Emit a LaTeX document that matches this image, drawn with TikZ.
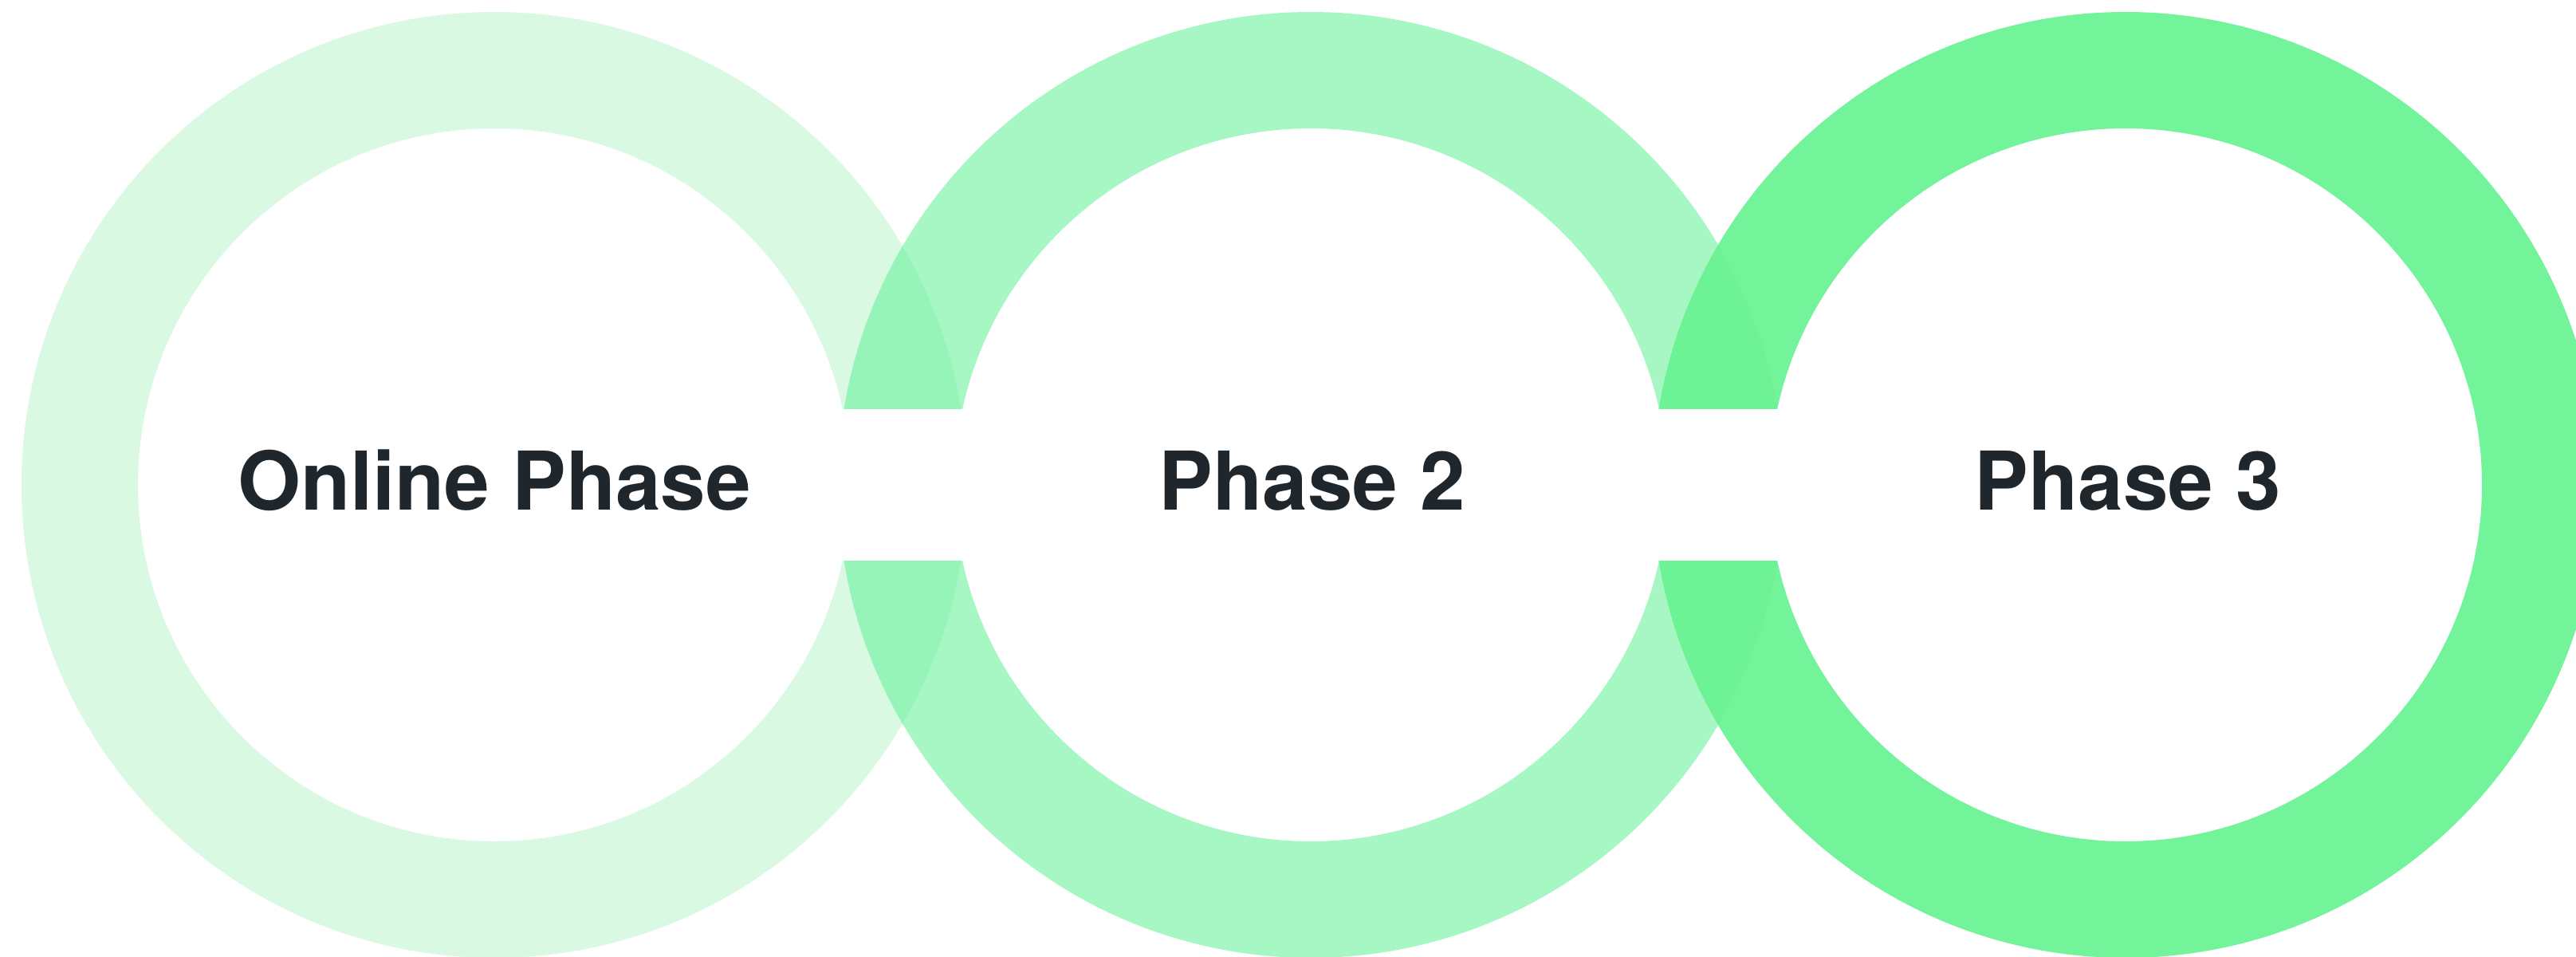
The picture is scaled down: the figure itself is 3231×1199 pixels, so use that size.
\documentclass[tikz,border=0pt]{standalone}
\usepackage{fontspec}
\setmainfont{TeX Gyre Heros}
\usepackage{tikz}

\definecolor{ringone}{RGB}{217,249,227}
\definecolor{ringtwo}{RGB}{114,242,160}
\definecolor{ringthree}{RGB}{107,242,148}
\definecolor{labeltext}{RGB}{31,39,45}

\tikzset{
  phaselabel/.style={anchor=base, text=labeltext, font=\fontsize{28.9}{35}\selectfont\bfseries},
}

\begin{document}
\begin{tikzpicture}[x=0.01cm, y=0.01cm]
  \useasboundingbox (0,-591) rectangle (3231,608);
  \clip (0,-591) rectangle (3231,608);

  \coordinate (c1) at (620,0);
  \coordinate (c2) at (1644,0);
  \coordinate (c3) at (2666,0);

  \fill[ringone, even odd rule] (c1) circle (593) (c1) circle (447);
  \fill[ringtwo, opacity=0.63, even odd rule] (c2) circle (593) (c2) circle (447);
  \fill[ringthree, opacity=0.944, even odd rule] (c3) circle (593) (c3) circle (447);

  % openings between the rings
  \fill[white] (1030,-95) rectangle (1235,95);
  \fill[white] (2052,-95) rectangle (2258,95);

  \node[phaselabel] (online) at (620,-31) {Online Phase};
  \node[phaselabel] (phasetwo) at (1646,-31) {Phase 2};
  \node[phaselabel] (phasethree) at (2669,-31) {Phase 3};
\end{tikzpicture}
\end{document}
